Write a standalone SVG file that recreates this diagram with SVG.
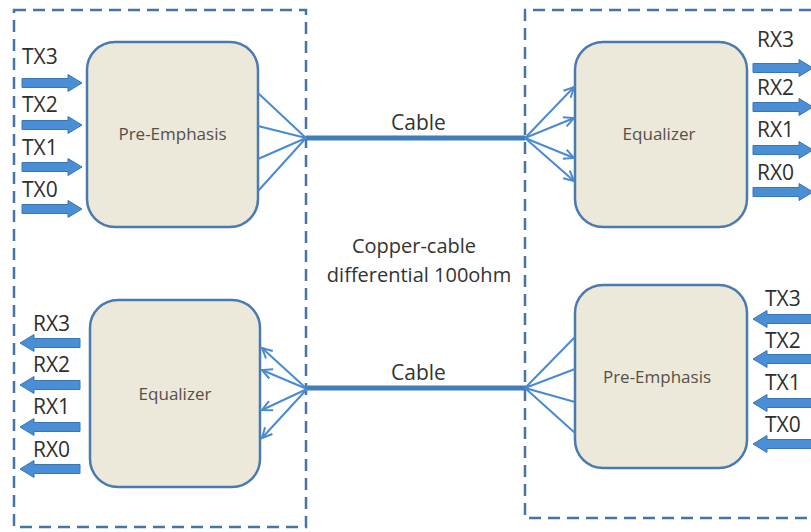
<svg xmlns="http://www.w3.org/2000/svg" xmlns:xlink="http://www.w3.org/1999/xlink" width="811" height="532" viewBox="0 0 811 532">
<style>
.bg{fill:#ffffff}
.frame{fill:none;stroke:#4674a6;stroke-width:2.5;stroke-dasharray:12 7}
.box{fill:#ece8da;stroke:#4a7ab0;stroke-width:2.5}
.boxt{font-family:"Open Sans","Liberation Sans",sans-serif;font-size:17px;fill:#55504a;text-anchor:middle}
.port{font-family:"Open Sans","Liberation Sans",sans-serif;font-size:21px;fill:#2e2e2e}
.mid{font-family:"Open Sans","Liberation Sans",sans-serif;font-size:20px;fill:#333333;text-anchor:middle}
.fat{fill:#4a8fd6;stroke:#3b76b4;stroke-width:1}
.fan{fill:none;stroke:#4a8ad0;stroke-width:2}
.cable{fill:none;stroke:#3f7dbd;stroke-width:5}
</style>
<defs>
<path id="arrR" d="M0,-4.5 H46 V-8.5 L60,0 L46,8.5 V4.5 H0 Z"/>
<path id="arrL" d="M0,0 L14,-8.5 V-4.5 H60 V4.5 H14 V8.5 Z"/>
<marker id="vh" markerUnits="userSpaceOnUse" markerWidth="14" markerHeight="14" refX="11" refY="6" orient="auto" viewBox="0 0 14 12">
<path d="M1,1 L11,6 L1,11" fill="none" stroke="#4a8ad0" stroke-width="2"/>
</marker>
</defs>
<rect class="bg" x="0" y="0" width="811" height="532"/>
<g id="frame-left"><rect class="frame" x="14" y="10" width="292" height="517"/></g>
<g id="frame-right"><path class="frame" d="M830,10 H525 V518 H830"/></g>

<g id="preemph-top"><rect class="box" x="87" y="42" width="171" height="185" rx="28"/><text class="boxt" x="172.5" y="140">Pre-Emphasis</text></g>
<g id="equalizer-top"><rect class="box" x="575" y="42" width="172" height="185" rx="28"/><text class="boxt" x="659" y="140">Equalizer</text></g>
<g id="equalizer-bottom"><rect class="box" x="90" y="300" width="170" height="187" rx="28"/><text class="boxt" x="175" y="400">Equalizer</text></g>
<g id="preemph-bottom"><rect class="box" x="575" y="285" width="172" height="183" rx="28"/><text class="boxt" x="657" y="383">Pre-Emphasis</text></g>

<g id="connectors">
<path class="cable" d="M306,138 H525"/>
<path class="cable" d="M306,388 H526"/>
<path class="fan" d="M258,93 L306,138 M258,126 L306,138 M258,159 L306,138 M258,191 L306,138"/>
<path class="fan" d="M575,337 L525,388 M575,369 L525,388 M575,402 L525,388 M575,433 L525,388"/>
<g class="fan" marker-end="url(#vh)">
<line x1="525" y1="138" x2="574" y2="87"/>
<line x1="525" y1="138" x2="574" y2="118"/>
<line x1="525" y1="138" x2="574" y2="158"/>
<line x1="525" y1="138" x2="574" y2="181"/>
<line x1="307" y1="389" x2="262" y2="348"/>
<line x1="307" y1="389" x2="262" y2="370"/>
<line x1="307" y1="389" x2="262" y2="410"/>
<line x1="307" y1="389" x2="262" y2="438"/>
</g>
<g class="fat">
<use xlink:href="#arrR" x="22" y="83"/>
<use xlink:href="#arrR" x="22" y="125"/>
<use xlink:href="#arrR" x="22" y="167"/>
<use xlink:href="#arrR" x="22" y="209"/>
<use xlink:href="#arrR" x="753" y="68"/>
<use xlink:href="#arrR" x="753" y="107"/>
<use xlink:href="#arrR" x="753" y="150"/>
<use xlink:href="#arrR" x="753" y="192"/>
<use xlink:href="#arrL" x="20" y="343"/>
<use xlink:href="#arrL" x="20" y="385"/>
<use xlink:href="#arrL" x="20" y="427"/>
<use xlink:href="#arrL" x="20" y="469"/>
<use xlink:href="#arrL" x="753" y="319"/>
<use xlink:href="#arrL" x="753" y="359"/>
<use xlink:href="#arrL" x="753" y="403"/>
<use xlink:href="#arrL" x="753" y="444"/>
</g>
</g>

<g id="labels">
<text class="port" x="22" y="64">TX3</text>
<text class="port" x="22" y="112">TX2</text>
<text class="port" x="22" y="155">TX1</text>
<text class="port" x="22" y="197">TX0</text>
<text class="port" x="757" y="47">RX3</text>
<text class="port" x="757" y="95">RX2</text>
<text class="port" x="757" y="137">RX1</text>
<text class="port" x="757" y="180">RX0</text>
<text class="port" x="33" y="331">RX3</text>
<text class="port" x="33" y="372">RX2</text>
<text class="port" x="33" y="414">RX1</text>
<text class="port" x="33" y="457">RX0</text>
<text class="port" x="765" y="306">TX3</text>
<text class="port" x="765" y="348">TX2</text>
<text class="port" x="765" y="390">TX1</text>
<text class="port" x="765" y="432">TX0</text>
<text class="mid" x="418.5" y="130" style="font-size:21px">Cable</text>
<text class="mid" x="418.5" y="380" style="font-size:21px">Cable</text>
<text class="mid" x="414" y="253">Copper-cable</text>
<text class="mid" x="419" y="282">differential 100ohm</text>
</g>
</svg>
